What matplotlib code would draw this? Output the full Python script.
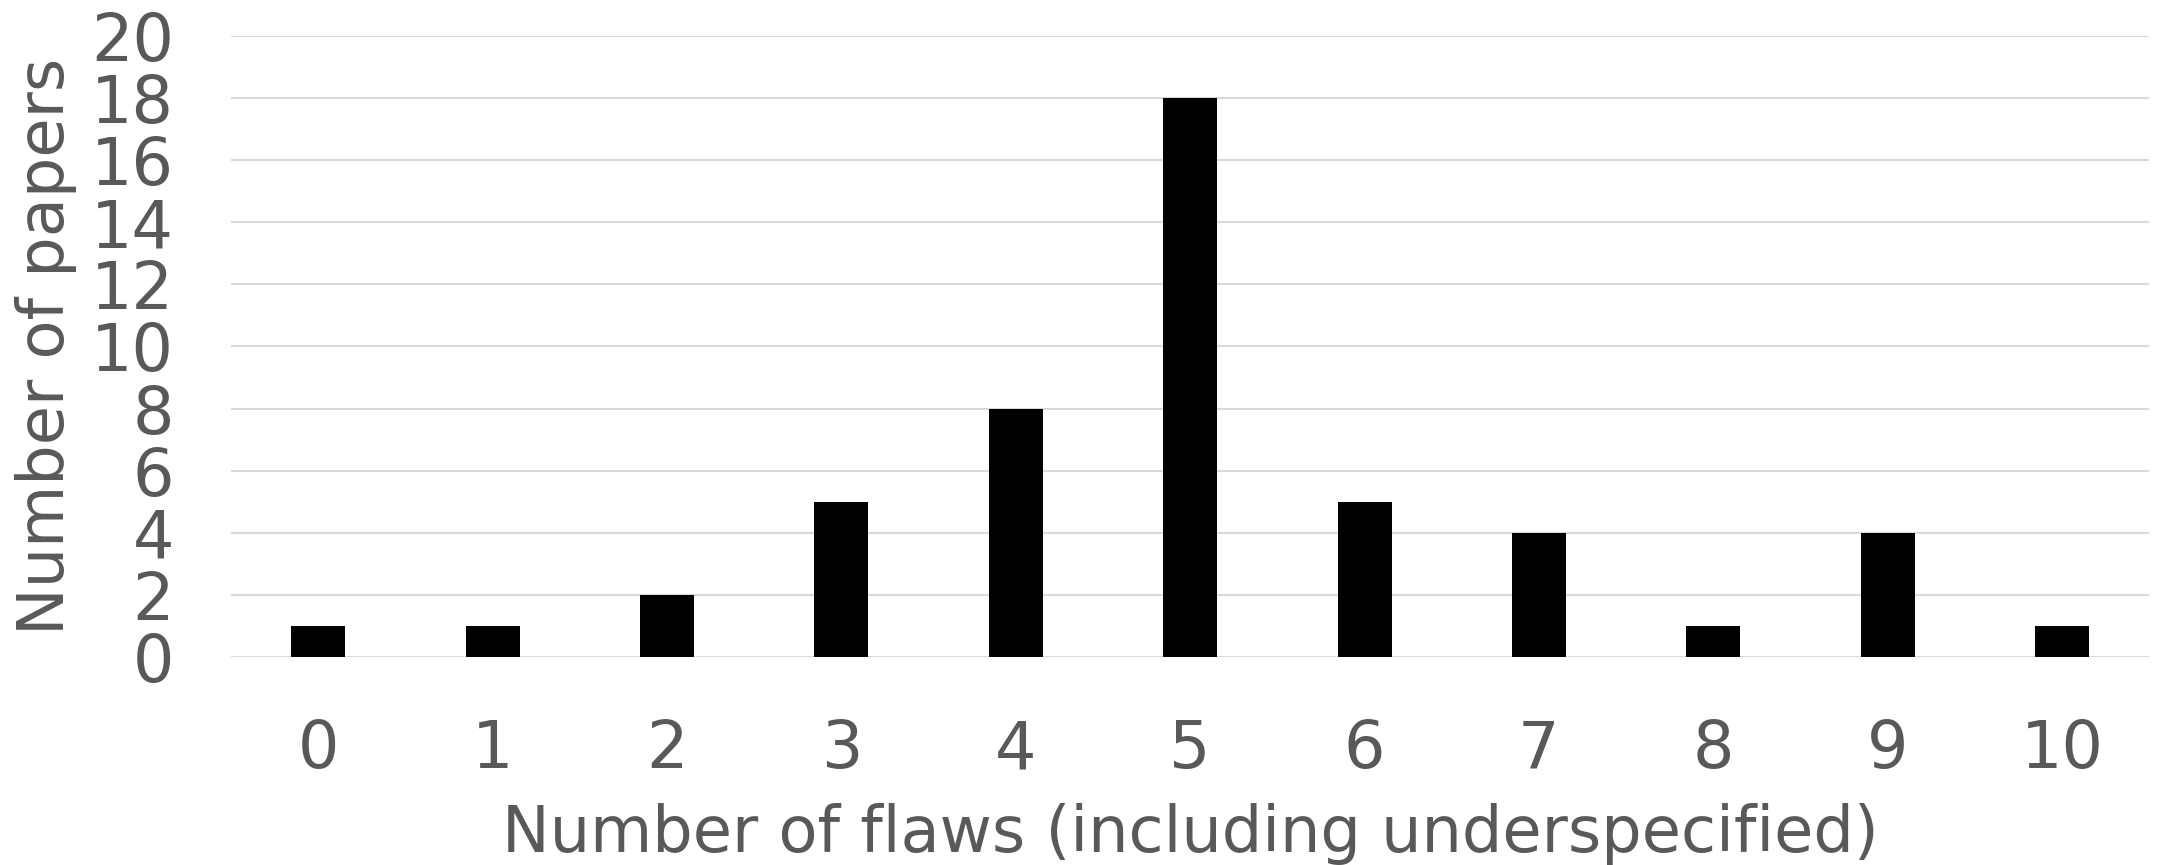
import matplotlib
matplotlib.use("Agg")
import matplotlib.pyplot as plt

categories = ["0", "1", "2", "3", "4", "5", "6", "7", "8", "9", "10"]
papers = [1, 1, 2, 5, 8, 18, 5, 4, 1, 4, 1]
y_ticks = [0, 2, 4, 6, 8, 10, 12, 14, 16, 18, 20]
x_label = "Number of flaws (including underspecified)"
y_label = "Number of papers"

TEXT = "#595959"
GRID = "#d9d9d9"
FS_TICK = 47
FS_LAB = 46

plt.rcParams['font.family'] = ['DejaVu Sans']

fig = plt.figure(figsize=(21.6, 8.65), dpi=100)
ax = fig.add_axes([0.107, 0.2405, 0.888, 0.718])

x = list(range(len(categories)))
ax.bar(x, papers, width=0.31, color="black", zorder=3)

ax.set_xlim(-0.5, len(categories) - 0.5)
ax.set_ylim(0, 20)
ax.set_yticks(y_ticks)
ax.set_yticklabels([str(v) for v in y_ticks])
ax.set_xticks(x)
ax.set_xticklabels(categories)

for v in y_ticks:
    ax.axhline(v, color=GRID, lw=1.5, zorder=1)

for s in ax.spines.values():
    s.set_visible(False)

ax.tick_params(axis='both', length=0, labelsize=FS_TICK, labelcolor=TEXT)
ax.tick_params(axis='y', pad=41)
ax.tick_params(axis='x', pad=44)

fig.text(46 / 2160, 0.600, y_label, rotation=90, ha='center', va='center',
         fontsize=FS_LAB, color=TEXT)
fig.text(0.5 * (0.107 + 0.995), 0.036, x_label, ha='center', va='center',
         fontsize=FS_LAB, color=TEXT)

fig.savefig("out.png", dpi=100)
